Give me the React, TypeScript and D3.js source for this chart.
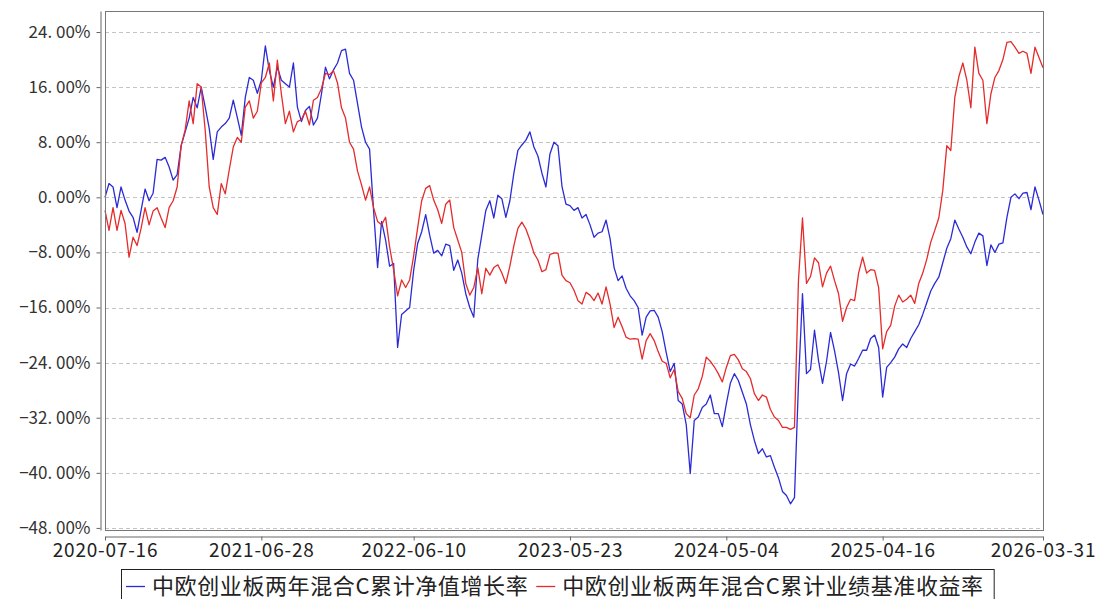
import React, { useEffect, useRef } from 'react';
import * as d3 from 'd3';

// cumulative NAV growth (%), sampled evenly over the trading-day axis
const navGrowth: number[] = [
  0, 2.0, 1.5, -1.5, 1.5, -0.4, -2.0, -2.9, -5.1, -1.9,
  1.2, -0.5, 0.6, 5.5, 5.4, 5.8, 4.4, 2.5, 3.3, 7.5,
  9.5, 11.5, 14.5, 13.0, 16.0, 13.1, 10.0, 5.5, 9.5, 10.2,
  10.7, 11.5, 14.1, 11.6, 9.0, 14.5, 17.4, 17.0, 15.1, 17.0,
  22.0, 18.4, 16.0, 18.9, 17.0, 16.5, 16.0, 19.5, 13.1, 11.0,
  12.6, 13.2, 10.5, 11.5, 15.0, 18.9, 17.2, 18.5, 19.5, 21.3,
  21.5, 18.0, 17.0, 13.6, 10.2, 8.0, 7.0, -1.9, -10.2, -3.5,
  -6.2, -10.0, -9.6, -21.8, -17.0, -16.5, -16.0, -10.6, -6.7, -5.0,
  -2.5, -5.5, -8.1, -7.7, -8.5, -6.8, -7.0, -10.6, -9.1, -11.0,
  -14.0, -16.0, -17.4, -9.0, -5.5, -1.9, -0.5, -3.0, 0.3, -0.2,
  -2.9, -0.5, 3.5, 6.8, 7.6, 8.3, 9.5, 7.3, 6.0, 3.5,
  1.5, 6.3, 8.0, 7.5, 1.6, -1.0, -1.2, -1.9, -1.5, -3.0,
  -2.5, -4.0, -5.8, -5.2, -5.0, -3.3, -6.0, -10.2, -12.1, -11.4,
  -13.2, -14.3, -15.0, -16.0, -20.0, -17.4, -16.5, -16.4, -17.4, -19.5,
  -22.5, -25.3, -24.1, -29.5, -30.0, -33.0, -40.1, -32.4, -31.9, -30.5,
  -30.0, -28.7, -31.4, -31.4, -33.3, -30.0, -27.0, -25.6, -26.6, -28.3,
  -30.0, -33.0, -35.3, -37.2, -36.5, -37.7, -37.5, -39.2, -40.7, -42.7,
  -43.3, -44.5, -43.6, -27.0, -14.0, -25.6, -25.0, -19.3, -23.7, -27.0,
  -23.8, -19.6, -22.3, -25.5, -29.5, -25.6, -24.2, -24.5, -23.4, -22.2,
  -22.2, -20.5, -20.0, -21.8, -29.0, -24.7, -24.0, -23.2, -22.0, -21.3,
  -21.8, -20.5, -19.5, -18.5, -17.0, -15.3, -13.6, -12.5, -11.6, -9.5,
  -7.4, -6.0, -3.3, -4.6, -5.8, -7.2, -8.2, -6.5, -5.2, -5.6,
  -9.9, -6.9, -8.0, -6.8, -6.6, -2.9, 0.0, 0.5, -0.2, 0.6,
  0.7, -1.8, 1.5, -0.4, -2.5,
];

// cumulative benchmark return (%)
const benchmark: number[] = [
  -1.9, -4.8, -1.5, -4.8, -1.9, -3.8, -8.7, -5.8, -7.0, -4.5,
  -1.5, -4.0, -2.0, -1.5, -3.0, -4.4, -1.5, -0.5, 1.5, 7.5,
  9.8, 14.0, 10.7, 16.5, 16.0, 9.7, 1.5, -1.5, -2.5, 2.0,
  0.5, 4.0, 7.3, 8.7, 8.0, 13.1, 14.0, 11.5, 12.5, 16.6,
  17.4, 19.5, 14.0, 19.9, 15.0, 10.7, 12.5, 9.5, 11.0, 11.3,
  12.5, 10.5, 14.1, 14.5, 15.8, 18.0, 17.8, 18.4, 16.6, 13.0,
  11.5, 8.0, 7.0, 3.8, 1.8, -0.4, 1.5, -1.5, -3.5, -4.0,
  -2.9, -7.2, -10.5, -14.3, -12.0, -13.1, -12.0, -8.5, -4.4, -0.5,
  1.3, 1.7, -0.4, -1.8, -3.8, -1.0, -0.4, -4.4, -6.2, -8.0,
  -12.5, -14.2, -13.1, -10.2, -14.0, -10.3, -11.3, -10.2, -9.8, -11.0,
  -12.5, -10.0, -7.0, -4.5, -3.6, -4.6, -6.2, -8.1, -9.1, -10.8,
  -10.5, -8.3, -8.1, -8.1, -11.3, -12.1, -12.4, -13.5, -15.0, -15.5,
  -13.8, -14.2, -15.0, -13.9, -15.5, -13.0, -15.5, -18.9, -17.4, -18.8,
  -20.3, -20.6, -20.5, -20.6, -23.5, -20.8, -19.8, -20.8, -22.4, -23.8,
  -24.1, -26.2, -25.0, -28.2, -29.2, -31.4, -32.0, -28.7, -27.8, -26.0,
  -23.2, -23.8, -24.6, -25.6, -26.8, -24.7, -23.0, -22.8, -23.6, -24.9,
  -25.3, -26.3, -28.5, -29.5, -28.7, -29.0, -30.8, -31.9, -32.4, -33.4,
  -33.4, -33.7, -33.4, -12.0, -3.0, -12.5, -11.5, -8.8, -9.5, -13.0,
  -11.0, -10.0, -12.1, -14.0, -18.0, -16.0, -14.8, -15.0, -11.0, -8.7,
  -11.0, -10.5, -10.6, -13.1, -22.0, -19.5, -18.6, -15.8, -14.2, -15.2,
  -14.8, -14.2, -15.4, -12.5, -11.0, -9.0, -6.5, -4.8, -3.0, 1.0,
  7.5, 6.8, 14.5, 17.5, 19.5, 17.0, 13.0, 21.8, 18.0, 17.0,
  10.7, 15.0, 17.4, 18.4, 20.0, 22.5, 22.6, 21.8, 20.9, 21.2,
  20.9, 18.0, 21.8, 20.3, 18.8,
];

const dateLabels = ['2020-07-16', '2021-06-28', '2022-06-10', '2023-05-23', '2024-05-04', '2025-04-16', '2026-03-31'];
const dateIndex = [0, 39, 77, 116, 155, 194, 234];
const yTicks = [24, 16, 8, 0, -8, -16, -24, -32, -40, -48];
const seriesNames = ['中欧创业板两年混合C累计净值增长率', '中欧创业板两年混合C累计业绩基准收益率'];
const seriesColors = ['#2b2bd6', '#e52b2b'];

const FONT = '"Noto Sans CJK SC", "Noto Sans", sans-serif';

const App: React.FC = () => {
  const ref = useRef<SVGSVGElement>(null);

  useEffect(() => {
    if (!ref.current) return;
    const svg = d3.select(ref.current);
    svg.selectAll('*').remove();

    const W = 1098, H = 599;
    const plot = { left: 105, right: 1043, top: 11, bottom: 530 };

    const x = d3.scaleLinear().domain([0, navGrowth.length - 1]).range([plot.left, plot.right]);
    const y = d3.scaleLinear().domain([-48.3, 27.05]).range([plot.bottom, plot.top]);

    svg.append('rect').attr('width', W).attr('height', H).attr('fill', '#fff');

    // dashed grid
    svg.append('g').selectAll('line').data(yTicks).enter().append('line')
      .attr('x1', plot.left).attr('x2', plot.right)
      .attr('y1', d => Math.round(y(d)) + 0.5).attr('y2', d => Math.round(y(d)) + 0.5)
      .attr('stroke', '#c4c4c4').attr('stroke-dasharray', '4,3');

    // series
    const line = d3.line<number>().x((_, i) => x(i)).y(d => y(d));
    [navGrowth, benchmark].forEach((s, k) => {
      svg.append('path').datum(s)
        .attr('d', line)
        .attr('fill', 'none')
        .attr('stroke', seriesColors[k])
        .attr('stroke-width', 1.3)
        .attr('stroke-linejoin', 'round');
    });

    // plot frame
    svg.append('rect')
      .attr('x', plot.left + 0.5).attr('y', plot.top + 0.5)
      .attr('width', plot.right - plot.left).attr('height', plot.bottom - plot.top)
      .attr('fill', 'none').attr('stroke', '#777');

    // y axis, offset left of the frame
    const yAxis = d3.axisLeft(y).tickValues(yTicks).tickSize(4).tickSizeOuter(0).tickPadding(6)
      .tickFormat(d => d3.format('.2f')(d as number).replace('.', '. ') + '%');
    const gy = svg.append('g').attr('transform', 'translate(100.5,0)').call(yAxis);
    gy.select('.domain').attr('stroke', '#666');
    gy.selectAll('line').attr('stroke', '#666');
    gy.selectAll('text').attr('font-family', FONT).attr('font-size', 17).attr('fill', '#333');

    // x axis, offset below the frame
    const xAxis = d3.axisBottom(x).tickValues(dateIndex).tickSize(4).tickSizeOuter(0).tickPadding(3)
      .tickFormat((_, i) => dateLabels[i]);
    const gx = svg.append('g').attr('transform', 'translate(0,536.5)').call(xAxis);
    gx.select('.domain').attr('stroke', '#666');
    gx.selectAll('line').attr('stroke', '#666');
    gx.selectAll('text').attr('font-family', FONT).attr('font-size', 19)
      .attr('letter-spacing', 0.8).attr('fill', '#222');

    // legend
    const lg = svg.append('g');
    const box = lg.append('rect')
      .attr('x', 121.5).attr('y', 569.5).attr('height', 40)
      .attr('fill', '#fff').attr('stroke', '#222');
    let cx = 126;
    seriesNames.forEach((name, k) => {
      lg.append('line')
        .attr('x1', cx).attr('x2', cx + 19).attr('y1', 586.5).attr('y2', 586.5)
        .attr('stroke', seriesColors[k]).attr('stroke-width', 1.3);
      const t = lg.append('text')
        .attr('x', cx + 26).attr('y', 594)
        .attr('font-family', FONT).attr('font-size', 22).attr('letter-spacing', 0.6)
        .attr('fill', '#222')
        .text(name);
      const len = (t.node() as SVGTextElement).getComputedTextLength();
      cx = cx + 26 + len + 8;
    });
    box.attr('width', cx - 121 + 2);
  }, []);

  return (
    <svg ref={ref} width={1098} height={599} style={{ position: 'absolute', left: 0, top: 0, display: 'block' }} />
  );
};

export default App;
